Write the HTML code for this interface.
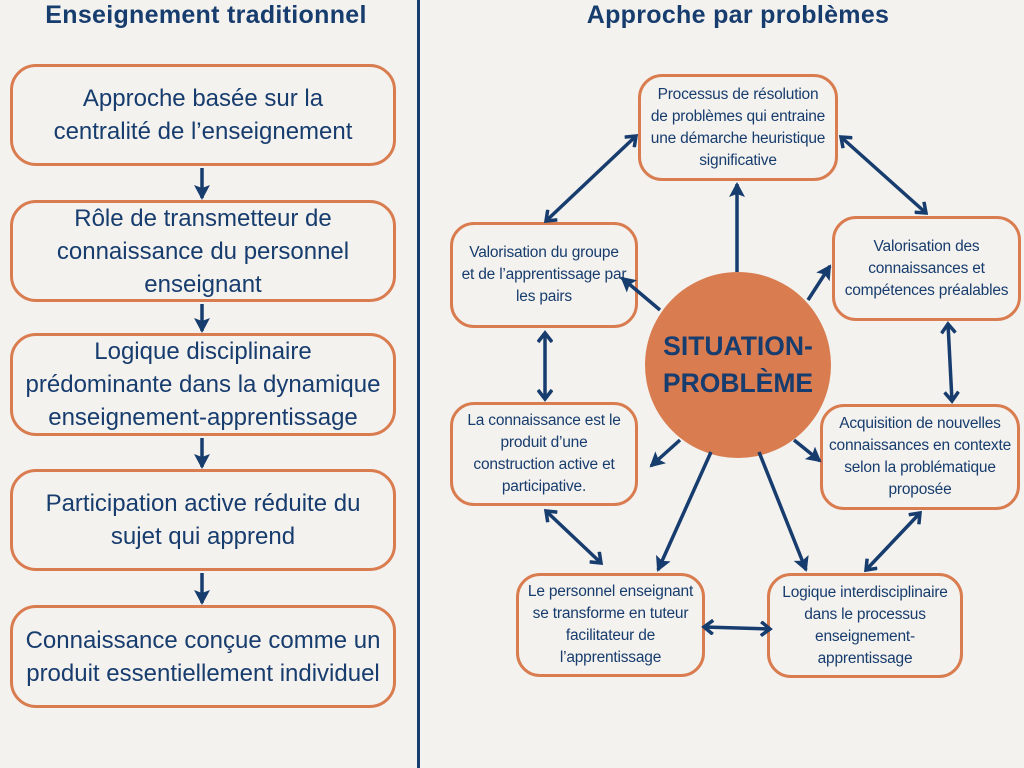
<!DOCTYPE html>
<html><head><meta charset="utf-8"><style>
body{margin:0;width:1024px;height:768px;background:#f4f2ee;position:relative;overflow:hidden;font-family:"Liberation Sans","DejaVu Sans",sans-serif;color:#173c6e}
.t{position:absolute;top:0;font-weight:bold;font-size:25px;text-align:center;letter-spacing:0.3px}
.b{position:absolute;box-sizing:border-box;border:3.5px solid #d97c50;border-radius:26px;display:flex;align-items:center;justify-content:center;text-align:center;white-space:nowrap}
.l{font-size:24px;line-height:33px}
.r{font-size:15.5px;line-height:22px;border-radius:24px;letter-spacing:-0.2px}
.c{position:absolute;left:645px;top:272px;width:186px;height:186px;border-radius:50%;background:#d97c50;display:flex;align-items:center;justify-content:center;text-align:center;font-weight:bold;font-size:26.5px;line-height:37px}
svg{position:absolute;left:0;top:0}
</style></head><body>
<div class="t" style="left:0;width:412px;top:1px">Enseignement traditionnel</div>
<div class="t" style="left:422px;width:632px;top:1px">Approche par problèmes</div>
<div style="position:absolute;left:417px;top:0;width:3px;height:768px;background:#173c6e"></div>

<div class="b l" style="left:10px;top:64px;width:386px;height:102px">Approche basée sur la<br>centralité de l’enseignement</div>
<div class="b l" style="left:10px;top:200px;width:386px;height:102px">Rôle de transmetteur de<br>connaissance du personnel<br>enseignant</div>
<div class="b l" style="left:10px;top:333px;width:386px;height:103px">Logique disciplinaire<br>prédominante dans la dynamique<br>enseignement-apprentissage</div>
<div class="b l" style="left:10px;top:469px;width:386px;height:102px">Participation active réduite du<br>sujet qui apprend</div>
<div class="b l" style="left:10px;top:605px;width:386px;height:103px">Connaissance conçue comme un<br>produit essentiellement individuel</div>

<div class="b r" style="left:638px;top:74px;width:200px;height:107px">Processus de résolution<br>de problèmes qui entraine<br>une démarche heuristique<br>significative</div>
<div class="b r" style="left:450px;top:222px;width:188px;height:106px">Valorisation du groupe<br>et de l’apprentissage par<br>les pairs</div>
<div class="b r" style="left:832px;top:216px;width:189px;height:105px">Valorisation des<br>connaissances et<br>compétences préalables</div>
<div class="b r" style="left:450px;top:402px;width:188px;height:104px">La connaissance est le<br>produit d’une<br>construction active et<br>participative.</div>
<div class="b r" style="left:820px;top:404px;width:200px;height:106px">Acquisition de nouvelles<br>connaissances en contexte<br>selon la problématique<br>proposée</div>
<div class="b r" style="left:516px;top:573px;width:189px;height:104px">Le personnel enseignant<br>se transforme en tuteur<br>facilitateur de<br>l’apprentissage</div>
<div class="b r" style="left:767px;top:573px;width:196px;height:105px">Logique interdisciplinaire<br>dans le processus<br>enseignement-<br>apprentissage</div>

<div class="c">SITUATION-<br>PROBLÈME</div>

<svg width="1024" height="768">
<defs><marker id="a" markerWidth="14" markerHeight="16" refX="11" refY="8" orient="auto-start-reverse" markerUnits="userSpaceOnUse"><path d="M2,1 L11,8 L2,15" fill="none" stroke="#173c6e" stroke-width="3.5"/></marker>
<marker id="f" markerWidth="16" markerHeight="16" refX="13" refY="8" orient="auto" markerUnits="userSpaceOnUse"><path d="M0,0 L15,8 L0,16 L3,8 z" fill="#173c6e"/></marker></defs>
<g stroke="#173c6e" stroke-width="3.5" fill="none">
<line x1="202" y1="168" x2="202" y2="198" marker-end="url(#f)"/>
<line x1="202" y1="304" x2="202" y2="331" marker-end="url(#f)"/>
<line x1="202" y1="438" x2="202" y2="467" marker-end="url(#f)"/>
<line x1="202" y1="573" x2="202" y2="603" marker-end="url(#f)"/>
<line x1="737" y1="272" x2="737" y2="184" marker-end="url(#f)"/>
<line x1="636" y1="136" x2="546" y2="221" marker-start="url(#a)" marker-end="url(#a)"/>
<line x1="841" y1="137" x2="926" y2="213" marker-start="url(#a)" marker-end="url(#a)"/>
<line x1="660" y1="310" x2="622" y2="278" marker-end="url(#f)"/>
<line x1="808" y1="300" x2="830" y2="266" marker-end="url(#f)"/>
<line x1="545" y1="333" x2="545" y2="399" marker-start="url(#a)" marker-end="url(#a)"/>
<line x1="948" y1="324" x2="952" y2="401" marker-start="url(#a)" marker-end="url(#a)"/>
<line x1="680" y1="440" x2="651" y2="466" marker-end="url(#f)"/>
<line x1="794" y1="440" x2="820" y2="461" marker-end="url(#f)"/>
<line x1="711" y1="452" x2="658" y2="570" marker-end="url(#f)"/>
<line x1="759" y1="452" x2="806" y2="570" marker-end="url(#f)"/>
<line x1="546" y1="511" x2="601" y2="563" marker-start="url(#a)" marker-end="url(#a)"/>
<line x1="920" y1="513" x2="866" y2="570" marker-start="url(#a)" marker-end="url(#a)"/>
<line x1="704" y1="627" x2="770" y2="629" marker-start="url(#a)" marker-end="url(#a)"/>
</g></svg>
</body></html>
